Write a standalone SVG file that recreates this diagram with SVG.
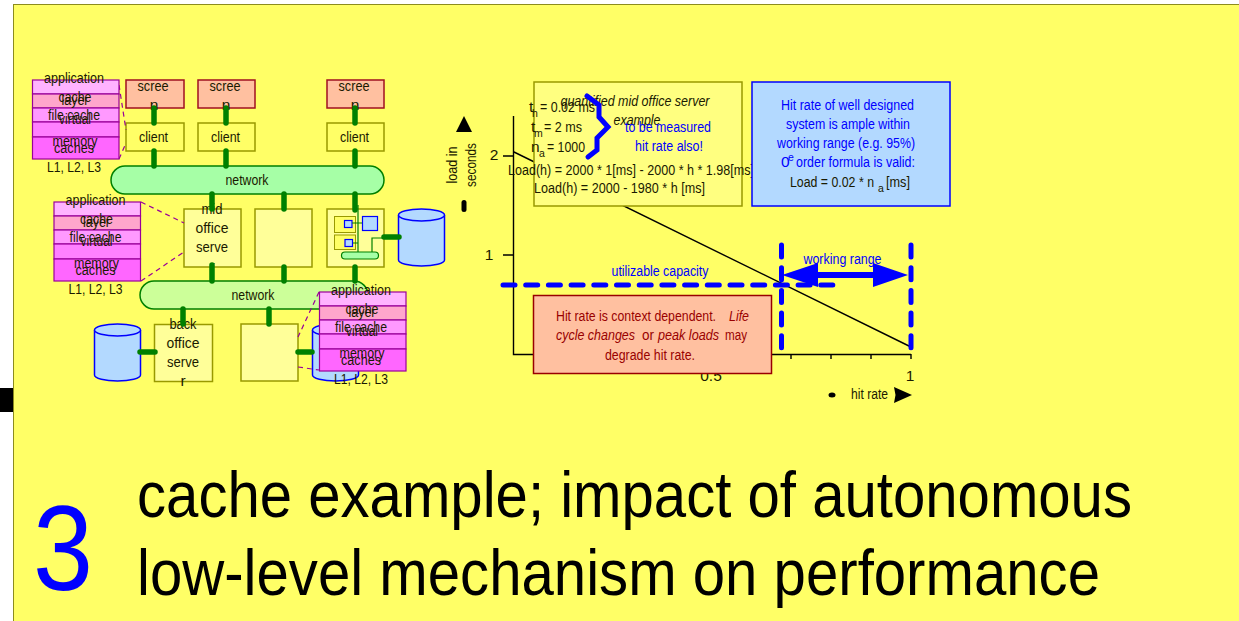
<svg xmlns="http://www.w3.org/2000/svg" width="1239" height="621" viewBox="0 0 1239 621">
<style>
text{font-family:"Liberation Sans",Arial,sans-serif;font-size:15.500px;fill:#1a1a00;text-anchor:middle}
.l{text-anchor:start}
.b{fill:#0000ff}
.r{fill:#990000}
.i{font-style:italic}
.s{font-size:10.500px}
.title{font-size:64.500px;fill:#000;text-anchor:start}
.scr{fill:#ffc0a0;stroke:#a01020;stroke-width:1.5}
.cli{fill:#ffff66;stroke:#999900;stroke-width:1.5}
.srv{fill:#ffff99;stroke:#999900;stroke-width:1.5}
.cyl{fill:#b3d9ff;stroke:#0000ff;stroke-width:1.5}
.c{stroke:#008000;stroke-width:5.5;stroke-linecap:round;fill:none}
.t{stroke:#008000;stroke-width:1.2;fill:none}
.d{stroke:#990099;stroke-width:1.2;stroke-dasharray:5 4;fill:none}
.st{stroke:#990099;stroke-width:1.2}
.bd{stroke:#0000ff;stroke-width:5;stroke-dasharray:12 10.7;stroke-linecap:round;fill:none}
.k{stroke:#000;stroke-width:1.4;fill:none}
</style>
<defs>
<g id="cyl"><path class="cyl" d="M0 6V51A23 6 0 0 0 46 51V6"/><ellipse class="cyl" cx="23" cy="6" rx="23" ry="6"/></g>
</defs>
<rect width="1239" height="621" fill="#fff"/>
<rect x="13.500" y="4.500" width="1226" height="617" fill="#ffff66" stroke="#8c8c1e"/>
<rect x="0" y="388" width="13" height="24" fill="#000"/>

<g id="server-boxes-mid">
<rect class="srv" x="184" y="209" width="57" height="58"/>
<text x="212" y="214" textLength="21" lengthAdjust="spacingAndGlyphs">mid</text>
<text x="212" y="233" textLength="33" lengthAdjust="spacingAndGlyphs">office</text>
<text x="212" y="252" textLength="32" lengthAdjust="spacingAndGlyphs">serve</text>
<text x="212" y="271">r</text>
<rect class="srv" x="255" y="209" width="57" height="58"/>
<rect class="srv" x="327" y="209" width="57" height="58"/>
</g>

<g id="server-detail">
<rect x="334.500" y="216.500" width="21" height="16" fill="#ffff66" stroke="#999900"/>
<rect x="334.500" y="235" width="21" height="14.500" fill="#ffff66" stroke="#999900"/>
<rect x="344.500" y="220.500" width="7.500" height="7" fill="#b3d9ff" stroke="#0000ff" stroke-width="1.2"/>
<rect x="345" y="239.500" width="7.500" height="7" fill="#b3d9ff" stroke="#0000ff" stroke-width="1.2"/>
<rect x="362.500" y="216.500" width="15" height="14" fill="#b3d9ff" stroke="#0000ff" stroke-width="1.2"/>
<path class="t" d="M358 205V252M352 223H362M353 243H358M372 252V238H383"/>
<rect x="341.500" y="252" width="37" height="7" rx="3.500" fill="#a6ffa6" stroke="#008000" stroke-width="1.2"/>
</g>

<g id="screen-1"><rect class="scr" x="126" y="80" width="58" height="28"/><text x="153" y="91" textLength="31" lengthAdjust="spacingAndGlyphs">scree</text><text x="154" y="110">n</text></g>
<g id="screen-2"><rect class="scr" x="198" y="80" width="57" height="28"/><text x="225" y="91" textLength="31" lengthAdjust="spacingAndGlyphs">scree</text><text x="226" y="110">n</text></g>
<g id="screen-3"><rect class="scr" x="327" y="80" width="57" height="28"/><text x="354" y="91" textLength="31" lengthAdjust="spacingAndGlyphs">scree</text><text x="355" y="110">n</text></g>
<g id="client-1"><rect class="cli" x="126" y="123" width="58" height="28"/><text x="153.500" y="142" textLength="29" lengthAdjust="spacingAndGlyphs">client</text></g>
<g id="client-2"><rect class="cli" x="198" y="123" width="57" height="28"/><text x="225.500" y="142" textLength="29" lengthAdjust="spacingAndGlyphs">client</text></g>
<g id="client-3"><rect class="cli" x="327" y="123" width="57" height="28"/><text x="354.500" y="142" textLength="29" lengthAdjust="spacingAndGlyphs">client</text></g>
<g id="network-1"><rect x="111" y="166" width="273" height="28" rx="14" fill="#a6ffa6" stroke="#008000" stroke-width="1.500"/><text x="247" y="185" textLength="43" lengthAdjust="spacingAndGlyphs">network</text></g>
<g id="network-2"><rect x="140" y="281" width="228" height="28" rx="14" fill="#ccff99" stroke="#008000" stroke-width="1.500"/><text x="253" y="300" textLength="43" lengthAdjust="spacingAndGlyphs">network</text></g>

<g id="back-office-server"><rect class="srv" x="154.500" y="324.500" width="58" height="57"/>
<text x="183" y="329" textLength="27" lengthAdjust="spacingAndGlyphs">back</text>
<text x="183" y="348" textLength="33" lengthAdjust="spacingAndGlyphs">office</text>
<text x="183" y="367" textLength="32" lengthAdjust="spacingAndGlyphs">serve</text>
<text x="183" y="386">r</text></g>
<g id="server-box-back-2"><rect class="srv" x="241" y="324" width="57" height="57"/></g>
<g id="disk-1"><use href="#cyl" x="398.500" y="209"/></g>
<g id="disk-2"><use href="#cyl" x="94.500" y="324"/></g>
<g id="disk-3"><use href="#cyl" x="312.500" y="324"/></g>

<g id="connectors">
<path class="c" d="M154 108V123M226 108V123M355 108V123M154 151V166M226 151V166M355 151V166M212 194V209M284 194V209M355 194V210M212 265V281M284 267V281M355 267V281M183 309V324M269 309V324M140 352H155M298 352H312M384 237H399"/>
<path class="d" d="M119 85L126 130M119 159L126 143M141 202L184 223M141 281L184 252M319 292L298 337M298 367L319 370"/>
</g>

<g id="cache-stack-1">
<rect x="32.500" y="80" width="86.500" height="14" fill="#ffb3ff" class="st"/><rect x="32.500" y="94" width="86.500" height="14" fill="#ffa6cc" class="st"/><rect x="32.500" y="108" width="86.500" height="14" fill="#ff99ff" class="st"/><rect x="32.500" y="122" width="86.500" height="15" fill="#ff80ff" class="st"/><rect x="32.500" y="137" width="86.500" height="22" fill="#ff66ff" class="st"/>
<text x="74" y="83" textLength="60" lengthAdjust="spacingAndGlyphs">application</text><text x="75" y="102" textLength="33" lengthAdjust="spacingAndGlyphs">cache</text><text x="75" y="105" textLength="27" lengthAdjust="spacingAndGlyphs">layer</text><text x="74" y="120" textLength="52" lengthAdjust="spacingAndGlyphs">file cache</text><text x="75" y="124" textLength="32" lengthAdjust="spacingAndGlyphs">virtual</text><text x="75" y="146" textLength="45" lengthAdjust="spacingAndGlyphs">memory</text><text x="74" y="153" textLength="40" lengthAdjust="spacingAndGlyphs">caches</text><text x="74" y="172" textLength="54" lengthAdjust="spacingAndGlyphs">L1, L2, L3</text>
</g>
<g id="cache-stack-2" transform="translate(21.500 122)">
<rect x="32.500" y="80" width="86.500" height="14" fill="#ffb3ff" class="st"/><rect x="32.500" y="94" width="86.500" height="14" fill="#ffa6cc" class="st"/><rect x="32.500" y="108" width="86.500" height="14" fill="#ff99ff" class="st"/><rect x="32.500" y="122" width="86.500" height="15" fill="#ff80ff" class="st"/><rect x="32.500" y="137" width="86.500" height="22" fill="#ff66ff" class="st"/>
<text x="74" y="83" textLength="60" lengthAdjust="spacingAndGlyphs">application</text><text x="75" y="102" textLength="33" lengthAdjust="spacingAndGlyphs">cache</text><text x="75" y="105" textLength="27" lengthAdjust="spacingAndGlyphs">layer</text><text x="74" y="120" textLength="52" lengthAdjust="spacingAndGlyphs">file cache</text><text x="75" y="124" textLength="32" lengthAdjust="spacingAndGlyphs">virtual</text><text x="75" y="146" textLength="45" lengthAdjust="spacingAndGlyphs">memory</text><text x="74" y="153" textLength="40" lengthAdjust="spacingAndGlyphs">caches</text><text x="74" y="172" textLength="54" lengthAdjust="spacingAndGlyphs">L1, L2, L3</text>
</g>
<g id="cache-stack-3" transform="translate(287 212)">
<rect x="32.500" y="80" width="86.500" height="14" fill="#ffb3ff" class="st"/><rect x="32.500" y="94" width="86.500" height="14" fill="#ffa6cc" class="st"/><rect x="32.500" y="108" width="86.500" height="14" fill="#ff99ff" class="st"/><rect x="32.500" y="122" width="86.500" height="15" fill="#ff80ff" class="st"/><rect x="32.500" y="137" width="86.500" height="22" fill="#ff66ff" class="st"/>
<text x="74" y="83" textLength="60" lengthAdjust="spacingAndGlyphs">application</text><text x="75" y="102" textLength="33" lengthAdjust="spacingAndGlyphs">cache</text><text x="75" y="105" textLength="27" lengthAdjust="spacingAndGlyphs">layer</text><text x="74" y="120" textLength="52" lengthAdjust="spacingAndGlyphs">file cache</text><text x="75" y="124" textLength="32" lengthAdjust="spacingAndGlyphs">virtual</text><text x="75" y="146" textLength="45" lengthAdjust="spacingAndGlyphs">memory</text><text x="74" y="153" textLength="40" lengthAdjust="spacingAndGlyphs">caches</text><text x="74" y="172" textLength="54" lengthAdjust="spacingAndGlyphs">L1, L2, L3</text>
</g>

<g id="graph">
<path class="k" d="M513.500 116V354.500H911M503 156H514M503 255H514M791 354V359M831 354V359M871 354V359M911 354V359M514 152L911 347"/>
<text x="494" y="160">2</text><text x="489" y="260">1</text>
<text x="711" y="381">0.5</text><text x="910" y="381">1</text>
<text x="869.500" y="399" textLength="37" lengthAdjust="spacingAndGlyphs">hit rate</text>
<ellipse cx="832" cy="395" rx="3.500" ry="2.500" fill="#000"/>
<path d="M894 387L912 395L894 403L895.500 395Z" fill="#000"/>
<path d="M464 116L472 132H456Z" fill="#000"/>
<text transform="translate(457 165) rotate(-90)" textLength="37" lengthAdjust="spacingAndGlyphs">load in</text>
<text transform="translate(476 165) rotate(-90)" textLength="44" lengthAdjust="spacingAndGlyphs">seconds</text>
<rect x="461.500" y="200" width="5" height="12" rx="2.500" fill="#000"/>
</g>

<g id="note-example">
<rect x="534" y="82" width="208" height="124" fill="#ffff80" stroke="#999900" stroke-width="1.500"/>
<text class="i" x="635" y="106" textLength="149" lengthAdjust="spacingAndGlyphs">quantified mid office server</text>
<text class="i" x="637" y="125" textLength="47" lengthAdjust="spacingAndGlyphs">example</text>
<text class="l" x="529" y="112">t</text><text class="l s" x="532" y="117">h</text><text class="l" x="540" y="112" textLength="55" lengthAdjust="spacingAndGlyphs">= 0.02 ms</text>
<text class="l" x="531" y="132">t</text><text class="l s" x="534" y="137">m</text><text class="l" x="544" y="132" textLength="38" lengthAdjust="spacingAndGlyphs">= 2 ms</text>
<text class="l" x="531" y="152">n</text><text class="l s" x="539" y="157">a</text><text class="l" x="547" y="152" textLength="38" lengthAdjust="spacingAndGlyphs">= 1000</text>
<text class="b" x="668" y="132" textLength="86" lengthAdjust="spacingAndGlyphs">to be measured</text>
<text class="b" x="669" y="151" textLength="68" lengthAdjust="spacingAndGlyphs">hit rate also!</text>
<text class="l" x="508" y="175" textLength="246" lengthAdjust="spacingAndGlyphs">Load(h) =  2000 * 1[ms] - 2000 * h * 1.98[ms]</text>
<text class="l" x="534" y="193" textLength="171" lengthAdjust="spacingAndGlyphs">Load(h) = 2000  - 1980 * h [ms]</text>
<path d="M587 96L599 105V117L608 127L597 138V150L588 157" fill="none" stroke="#0000ff" stroke-width="5" stroke-linecap="round"/>
</g>

<g id="note-hit-rate">
<rect x="752" y="82" width="198" height="124" fill="#b3d9ff" stroke="#0000ff" stroke-width="1.500"/>
<text class="b" x="847.500" y="110" textLength="133" lengthAdjust="spacingAndGlyphs">Hit rate of well designed</text>
<text class="b" x="848" y="129" textLength="124" lengthAdjust="spacingAndGlyphs">system is ample within</text>
<text class="b" x="846" y="148" textLength="138" lengthAdjust="spacingAndGlyphs">working range (e.g. 95%)</text>
<text class="l b" x="781" y="167">0</text><text class="l b s" x="788" y="161">e</text><text class="l b" x="796" y="167" textLength="119" lengthAdjust="spacingAndGlyphs">order formula is valid:</text>
<text class="l" x="790" y="187" textLength="84" lengthAdjust="spacingAndGlyphs">Load = 0.02 * n</text><text class="l s" x="878" y="192">a</text><text class="l" x="886" y="187" textLength="24" lengthAdjust="spacingAndGlyphs">[ms]</text>
</g>

<g id="note-context">
<rect x="533.500" y="295.500" width="238" height="78" fill="#ffc0a0" stroke="#990000" stroke-width="1.500"/>
<text class="l r" x="556" y="321" textLength="160" lengthAdjust="spacingAndGlyphs">Hit rate is context dependent.</text><text class="l r i" x="729" y="321" textLength="20" lengthAdjust="spacingAndGlyphs">Life</text>
<text class="l r i" x="556" y="340" textLength="79" lengthAdjust="spacingAndGlyphs">cycle changes</text><text class="l r" x="642" y="340" textLength="12" lengthAdjust="spacingAndGlyphs">or</text><text class="l r i" x="658" y="340" textLength="61" lengthAdjust="spacingAndGlyphs">peak loads</text><text class="l r" x="725" y="340" textLength="22" lengthAdjust="spacingAndGlyphs">may</text>
<text class="r" x="650" y="360" textLength="90" lengthAdjust="spacingAndGlyphs">degrade hit rate.</text>
</g>

<g id="working-range">
<text class="b" x="660" y="276" textLength="97" lengthAdjust="spacingAndGlyphs">utilizable capacity</text>
<text class="b" x="842.500" y="264" textLength="78" lengthAdjust="spacingAndGlyphs">working range</text>
<path class="bd" d="M503 285H836M781.500 245V349M911 245V349"/>
<path d="M782 275L818 263V272H873V263L908 275L873 287V278H818V287Z" fill="#0000ff"/>
</g>

<g id="title">
<text class="b" x="63" y="590" textLength="60" lengthAdjust="spacingAndGlyphs" style="font-size:120px">3</text>
<text class="title" x="137" y="517" textLength="995" lengthAdjust="spacingAndGlyphs">cache example; impact of autonomous</text>
<text class="title" x="137" y="595" textLength="963" lengthAdjust="spacingAndGlyphs">low-level mechanism on performance</text>
</g>
</svg>
